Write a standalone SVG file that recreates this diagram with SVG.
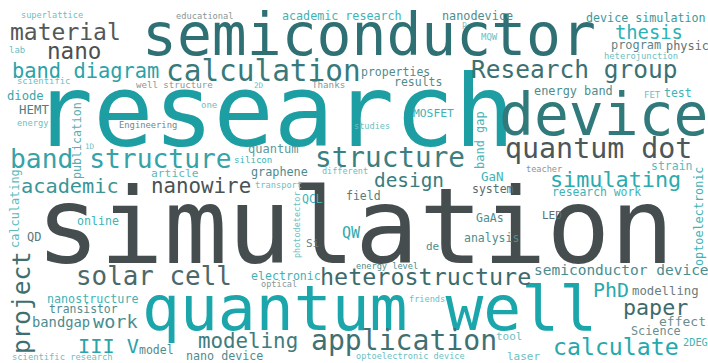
<svg xmlns="http://www.w3.org/2000/svg" width="708" height="363" viewBox="0 0 708 363">
<style>
text{font-family:"DejaVu Sans Mono","Liberation Mono",monospace;}
.tb{fill:#3eb3b6}.tg{fill:#508c8d}.lt{fill:#6cc0c2}.lg{fill:#8a9696}
</style>
<rect width="708" height="363" fill="#ffffff"/>
<g id="big">
<text x="36" y="263" font-size="106" fill="#464d4e">simulation</text>
<text x="33" y="146" font-size="100" fill="#1d9ea3">research</text>
<text x="142" y="330" font-size="63" fill="#1aa6ab">quantum well</text>
<text x="142" y="55" font-size="58" fill="#2e7073">semiconductor</text>
<text x="499" y="135" font-size="58" fill="#307a7c">device</text>
</g>
<g id="medium">
<text x="166" y="81" font-size="29.4" fill="#38797b">calculation</text>
<text x="471" y="78" font-size="24.5" fill="#3c7173">Research group</text>
<text x="12" y="78" font-size="20.4" fill="#2ba3a8">band diagram</text>
<text x="10" y="40" font-size="23" fill="#545859">material</text>
<text x="47" y="59" font-size="22.6" fill="#4b5051">nano</text>
<text x="10" y="168" font-size="26.3" fill="#35a3a8">band structure</text>
<text x="315" y="167" font-size="27.7" fill="#3c7f81">structure</text>
<text x="505" y="158" font-size="28.3" fill="#4b5759">quantum dot</text>
<text x="21" y="193" font-size="20.3" fill="#3b9496">academic</text>
<text x="151" y="193" font-size="20.8" fill="#4a5253">nanowire</text>
<text x="374" y="187" font-size="19.4" fill="#397c7e">design</text>
<text x="550" y="187" font-size="21.8" fill="#2aabb0">simulating</text>
<text x="320" y="285" font-size="23.4" fill="#3c6b6d">heterostructure</text>
<text x="76" y="285" font-size="25.9" fill="#4c6869">solar cell</text>
<text x="311" y="350" font-size="28.1" fill="#3f7072">application</text>
<text x="553" y="355" font-size="23.2" fill="#23a9ae">calculate</text>
<text x="198" y="348" font-size="20.8" fill="#3e7c7e">modeling</text>
<text x="623" y="315" font-size="21.7" fill="#3e6a6c">paper</text>
<text x="593" y="297" font-size="19.9" fill="#2ba8ad">PhD</text>
<text x="78" y="353" font-size="20.3" fill="#2aa3a8">III V</text>
<text x="615" y="39" font-size="18.8" fill="#2ab2b6">thesis</text>
<text x="93" y="328" font-size="18.5" fill="#478d8f">work</text>
<text transform="translate(30,354) rotate(-90)" font-size="24.4" fill="#3d6f71">project</text>
<text x="534" y="275" font-size="14.5" fill="#4a8c8e">semiconductor device</text>
<text x="32" y="327" font-size="13.8" fill="#4a8c8e">bandgap</text>
<text x="659" y="326" font-size="13" fill="#6a8d8e">effect</text>
<text x="632" y="295" font-size="12.3" fill="#6c7c7d">modelling</text>
<text x="611" y="49" font-size="11.9" fill="#5b8586">program</text>
<text x="666" y="50" font-size="11.9" fill="#6a6e6f">physic</text>
<text x="248" y="153" font-size="12" fill="#5a9a9b">quantum</text>
<text x="251" y="176" font-size="11.8" fill="#4c8b8d">graphene</text>
<text x="342" y="238" font-size="15" fill="#2eaab0">QW</text>
</g>
<g id="small">
<text class="tb" x="282" y="20" font-size="11.7">academic research</text>
<text class="tg" x="442" y="20" font-size="11.8">nanodevice</text>
<text x="586" y="22" font-size="11.7" fill="#3a9a9c">device simulation</text>
<text class="tg" x="361" y="76" font-size="11.5">properties</text>
<text class="tg" x="394" y="86" font-size="11.5">results</text>
<text class="tb" x="413" y="117" font-size="11.3">MOSFET</text>
<text x="7" y="100" font-size="12.2" fill="#3aa7aa">diode</text>
<text x="19" y="114" font-size="12.4" fill="#4a8284">HEMT</text>
<text transform="translate(81,179) rotate(-90)" font-size="11.6" fill="#5aaeb0">publication</text>
<text class="tg" x="534" y="95" font-size="11.9">energy band</text>
<text class="tb" x="664" y="97" font-size="11.5">test</text>
<text transform="translate(484,169) rotate(-90)" font-size="12" fill="#4cb4b6">band gap</text>
<text x="151" y="177" font-size="11.3" fill="#60b8ba">article</text>
<text class="tb" x="77" y="225" font-size="11.6">online</text>
<text x="27" y="241" font-size="12" fill="#5e7a7b">QD</text>
<text transform="translate(19,248) rotate(-90)" font-size="11.9" fill="#5cbabc">calculating</text>
<text class="tb" x="302" y="203" font-size="11.5">QCL</text>
<text x="346" y="200" font-size="11.5" fill="#5c7a7b">field</text>
<text class="tg" x="464" y="242" font-size="11.5">analysis</text>
<text class="tb" x="481" y="181" font-size="12.5">GaN</text>
<text x="472" y="193" font-size="11.5" fill="#5c6c6d">system</text>
<text x="651" y="170" font-size="11.5" fill="#5cbabc">strain</text>
<text class="tb" x="552" y="196" font-size="11.4">research work</text>
<text x="542" y="219" font-size="11" fill="#5f6d6e">LED</text>
<text class="tg" x="476" y="222" font-size="11.5">GaAs</text>
<text class="tb" transform="translate(703,266) rotate(-90)" font-size="11.8">optoelectronic</text>
<text class="tb" x="251" y="280" font-size="11.6">electronic</text>
<text class="tb" x="47" y="303" font-size="11.7">nanostructure</text>
<text class="tg" x="49" y="313" font-size="11.4">transistor</text>
<text class="tg" x="139" y="354" font-size="11.5">model</text>
<text class="tg" x="186" y="360" font-size="11.7">nano device</text>
<text x="631" y="335" font-size="11.8" fill="#6a8d8e">Science</text>
<text class="tb" x="683" y="346" font-size="10.3">2DEG</text>
<text class="lt" x="507" y="360" font-size="11">laser</text>
<text class="lt" x="496" y="340" font-size="11">tool</text>
<text class="tb" x="234" y="163" font-size="9.1">silicon</text>
<text x="306" y="247" font-size="11" fill="#6d7b7c">Si</text>
<text class="tg" x="426" y="250" font-size="11">de</text>
<text class="lt" x="201" y="108" font-size="9">one</text>
<text class="lt" x="17" y="126" font-size="8.7">energy</text>
</g>
<g id="tiny">
<text class="lt" x="21" y="18" font-size="8.6">superlattice</text>
<text class="lg" x="176" y="19" font-size="8.7">educational</text>
<text class="lt" x="9" y="53" font-size="9">lab</text>
<text class="lt" x="17" y="84" font-size="8.9">scientific</text>
<text class="lg" x="136" y="88" font-size="9.1">well structure</text>
<text x="119" y="128" font-size="8.8" fill="#6f8788">Engineering</text>
<text class="lt" x="85" y="149" font-size="7.6">1D</text>
<text class="lt" x="354" y="129" font-size="8.6">studies</text>
<text class="lt" x="322" y="174" font-size="8.5">different</text>
<text class="lt" x="255" y="188" font-size="8.7">transport</text>
<text class="lt" transform="translate(300,258) rotate(-90)" font-size="8.5">photodetector</text>
<text class="lg" x="526" y="172" font-size="8.6">teacher</text>
<text class="lt" x="604" y="59" font-size="8.8">heterojunction</text>
<text class="lt" x="481" y="40" font-size="9">MQW</text>
<text class="lt" x="644" y="98" font-size="9">FET</text>
<text class="lt" x="254" y="88" font-size="7.6">2D</text>
<text class="lg" x="312" y="88" font-size="9.2">Thanks</text>
<text class="lt" x="462" y="27" font-size="8">p</text>
<text class="tg" x="356" y="269" font-size="8.6">energy level</text>
<text class="lg" x="261" y="287" font-size="8.6">optical</text>
<text class="lt" x="409" y="302" font-size="8.6">friends</text>
<text class="lt" x="356" y="359" font-size="8.6">optoelectronic device</text>
<text class="lt" x="12" y="360" font-size="8.8">scientific research</text>
</g>
</svg>
